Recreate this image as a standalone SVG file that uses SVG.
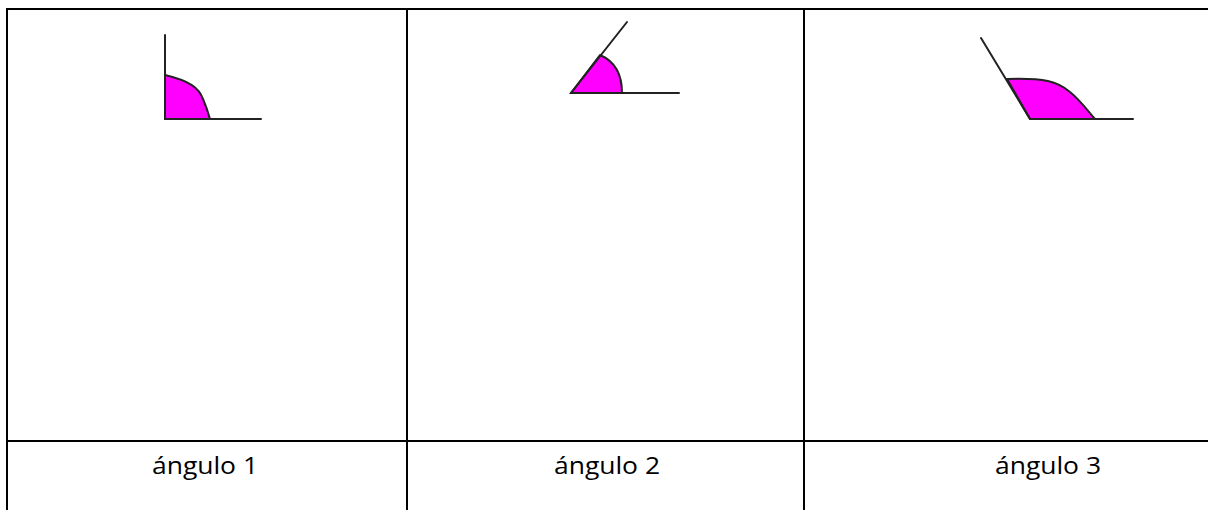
<svg xmlns="http://www.w3.org/2000/svg" width="1208" height="510" viewBox="0 0 1208 510">
<style>
.grid{stroke:#000;stroke-width:2;fill:none}
.ray{stroke:#222;stroke-width:2;fill:none;stroke-linecap:round}
.fill{fill:#ff00ff;stroke:#222;stroke-width:2;stroke-linejoin:round}
.lbl{font-family:"Open Sans","Liberation Sans",sans-serif;font-size:24px;fill:#000;text-anchor:middle}
</style>
<rect width="1208" height="510" fill="#fff"/>
<g id="table" class="grid">
<line x1="6" y1="9" x2="1208" y2="9"/>
<line x1="7" y1="8" x2="7" y2="510"/>
<line x1="407" y1="8" x2="407" y2="510"/>
<line x1="804" y1="8" x2="804" y2="510"/>
<line x1="6" y1="441" x2="1208" y2="441"/>
</g>
<g id="angle1">
<path class="fill" d="M165,75 C190,81 199,88 203,99 C206,106 208,112 210,119 L165,119 Z"/>
<path class="ray" d="M165,35 L165,119 L261,119"/>
</g>
<g id="angle2">
<path class="fill" d="M600,55 C614,61 622,72 622,93 L571,93 Z"/>
<path class="ray" d="M627,22 L571,93 L679,93"/>
</g>
<g id="angle3">
<path class="fill" d="M1007,79 C1045,78 1057,81 1070,92 C1080,100 1088,111 1095,119 L1030,119 Z"/>
<path class="ray" d="M981,38 L1030,119 L1133,119"/>
</g>
<g id="labels">
<text class="lbl" x="205" y="474" textLength="106" lengthAdjust="spacingAndGlyphs">ángulo 1</text>
<text class="lbl" x="607" y="474" textLength="106" lengthAdjust="spacingAndGlyphs">ángulo 2</text>
<text class="lbl" x="1048" y="474" textLength="106" lengthAdjust="spacingAndGlyphs">ángulo 3</text>
</g>
</svg>
